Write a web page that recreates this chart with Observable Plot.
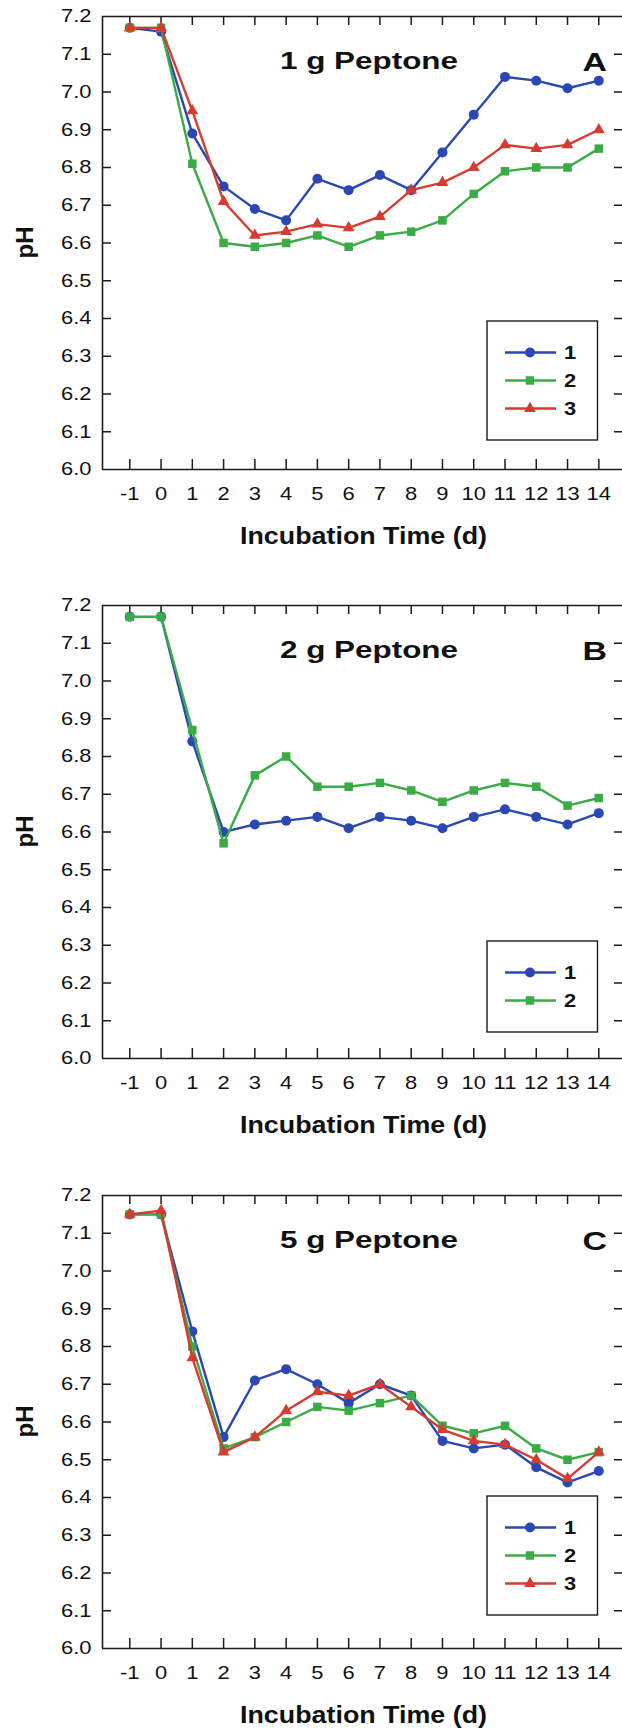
<!DOCTYPE html>
<html>
<head>
<meta charset="utf-8">
<script src="https://cdn.jsdelivr.net/npm/d3@7"></script>
<script src="https://cdn.jsdelivr.net/npm/@observablehq/plot@0.6"></script>
<style>
  body { margin: 0; background: #fff; }
  #charts svg { display: block; }
</style>
</head>
<body>
<div id="charts"></div>
<script>
// Incubation days and pH readings for three peptone loadings
const days = [-1, 0, 1, 2, 3, 4, 5, 6, 7, 8, 9, 10, 11, 12, 13, 14];
const yTicks = [6.0, 6.1, 6.2, 6.3, 6.4, 6.5, 6.6, 6.7, 6.8, 6.9, 7.0, 7.1, 7.2];

// 1 g peptone
const ph1g_s1 = [7.17, 7.16, 6.89, 6.75, 6.69, 6.66, 6.77, 6.74, 6.78, 6.74, 6.84, 6.94, 7.04, 7.03, 7.01, 7.03];
const ph1g_s2 = [7.17, 7.17, 6.81, 6.60, 6.59, 6.60, 6.62, 6.59, 6.62, 6.63, 6.66, 6.73, 6.79, 6.80, 6.80, 6.85];
const ph1g_s3 = [7.17, 7.17, 6.95, 6.71, 6.62, 6.63, 6.65, 6.64, 6.67, 6.74, 6.76, 6.80, 6.86, 6.85, 6.86, 6.90];

// 2 g peptone
const ph2g_s1 = [7.17, 7.17, 6.84, 6.60, 6.62, 6.63, 6.64, 6.61, 6.64, 6.63, 6.61, 6.64, 6.66, 6.64, 6.62, 6.65];
const ph2g_s2 = [7.17, 7.17, 6.87, 6.57, 6.75, 6.80, 6.72, 6.72, 6.73, 6.71, 6.68, 6.71, 6.73, 6.72, 6.67, 6.69];

// 5 g peptone
const ph5g_s1 = [7.15, 7.15, 6.84, 6.56, 6.71, 6.74, 6.70, 6.65, 6.70, 6.67, 6.55, 6.53, 6.54, 6.48, 6.44, 6.47];
const ph5g_s2 = [7.15, 7.15, 6.80, 6.53, 6.56, 6.60, 6.64, 6.63, 6.65, 6.67, 6.59, 6.57, 6.59, 6.53, 6.50, 6.52];
const ph5g_s3 = [7.15, 7.16, 6.77, 6.52, 6.56, 6.63, 6.68, 6.67, 6.70, 6.64, 6.58, 6.55, 6.54, 6.50, 6.45, 6.52];

const seriesLabels = ["1", "2", "3"];
const panelTitles = ["1 g Peptone", "2 g Peptone", "5 g Peptone"];
const panelLetters = ["A", "B", "C"];
const xLabel = "Incubation Time (d)";
const yLabel = "pH";

// styling
const seriesColors = ["#2b47b3", "#3aab45", "#d63b2f"];
const seriesSymbols = ["circle", "square", "triangle"];
const seriesRadius = [5, 4.8, 4.4];
const ink = "#1b1b1b";
const FONT = "'Liberation Sans', Arial, Helvetica, sans-serif";
const WIDE = 1.22;   // the lettering is set a little wide

// layout
const W = 622;
const PLOT_TOP = 16, PLOT_H = 453;
const X_RANGE = [102, 624];           // right spine sits just past the edge
const X_DOMAIN = [-1.873, 14.822];
const pxPerX = (X_RANGE[1] - X_RANGE[0]) / (X_DOMAIN[1] - X_DOMAIN[0]);
const pxPerY = PLOT_H / 1.2;
const xAt = px => X_DOMAIN[0] + (px - X_RANGE[0]) / pxPerX;

const panelHeights = [589, 590, 553];
const legendBottoms = [440, 443, 436];
const panelSeries = [
  [ph1g_s1, ph1g_s2, ph1g_s3],
  [ph2g_s1, ph2g_s2],
  [ph5g_s1, ph5g_s2, ph5g_s3]
];

// widen a text element horizontally about its anchor ("start" | "middle" | "end")
function widen(el, s, anchor) {
  const b = el.getBBox();
  const ax = anchor === "end" ? b.x + b.width : anchor === "middle" ? b.x + b.width / 2 : b.x;
  const t = el.getAttribute("transform") || "";
  el.setAttribute("transform", `${t} translate(${ax},0) scale(${s},1) translate(${-ax},0)`);
}

const host = document.getElementById("charts");

panelSeries.forEach((seriesList, p) => {
  const H = panelHeights[p];
  const rows = seriesList.map((vals, s) => days.map((d, i) => ({day: d, ph: vals[i], s})));

  const marks = [
    // frame: bottom & top lines, left spine
    Plot.ruleY([6.0, 7.2], {stroke: ink, strokeWidth: 1.6}),
    Plot.ruleX([X_DOMAIN[0]], {y1: 6.0, y2: 7.2, stroke: ink, strokeWidth: 1.6}),
    // inward ticks on every side
    Plot.ruleX(days, {x: d => d, y1: 6.0, y2: 6.0 + 10 / pxPerY, stroke: ink, strokeWidth: 1.5}),
    Plot.ruleX(days, {x: d => d, y1: 7.2, y2: 7.2 - 9 / pxPerY, stroke: ink, strokeWidth: 1.5}),
    Plot.ruleY(yTicks.slice(1, -1), {y: d => d, x1: X_DOMAIN[0], x2: X_DOMAIN[0] + 9 / pxPerX, stroke: ink, strokeWidth: 1.5}),
    Plot.ruleY(yTicks.slice(1, -1), {y: d => d, x1: xAt(614), x2: xAt(624), stroke: ink, strokeWidth: 1.5})
  ];

  rows.forEach((r, s) => {
    marks.push(Plot.line(r, {x: "day", y: "ph", stroke: seriesColors[s], strokeWidth: 2.4}));
    marks.push(Plot.dot(r, {x: "day", y: "ph", symbol: seriesSymbols[s], r: seriesRadius[s], fill: seriesColors[s], stroke: "none"}));
  });

  const svg = Plot.plot({
    width: W,
    height: H,
    marginTop: PLOT_TOP,
    marginBottom: H - PLOT_TOP - PLOT_H,
    marginLeft: X_RANGE[0],
    marginRight: 0,
    style: {fontFamily: FONT, fontSize: "18px", color: "#111", background: "#fff"},
    x: {domain: X_DOMAIN, range: X_RANGE, ticks: days, tickSize: 0, tickPadding: 18, tickFormat: d => String(d), label: null},
    y: {domain: [6.0, 7.2], range: [PLOT_TOP + PLOT_H, PLOT_TOP], ticks: yTicks, tickSize: 0, tickPadding: 11, tickFormat: d => d.toFixed(1), label: null},
    marks
  });
  host.appendChild(svg);

  // tick labels drawn by Plot's axes
  svg.querySelectorAll("text").forEach(el => {
    const a = el.closest("[text-anchor]");
    const ta = el.getAttribute("text-anchor") || (a ? a.getAttribute("text-anchor") : null) || "middle";
    widen(el, WIDE, ta);
  });

  const g = d3.select(svg).append("g")
    .attr("font-family", FONT)
    .attr("font-weight", "bold")
    .attr("text-anchor", "start")
    .attr("fill", "#111");

  const stretched = (txt, x, y, size, len) =>
    g.append("text").text(txt)
      .attr("x", x).attr("y", y)
      .attr("font-size", size)
      .attr("text-anchor", "start")
      .attr("textLength", len)
      .attr("lengthAdjust", "spacingAndGlyphs");

  // panel title and letter
  stretched(panelTitles[p], 280, 69, 24, 178);
  stretched(panelLetters[p], 582.5, 70.5, 25, 24.5);
  // axis titles
  stretched(xLabel, 240, PLOT_TOP + PLOT_H + 74.5, 23, 247);
  g.append("text").text(yLabel)
    .attr("transform", `translate(33,${PLOT_TOP + PLOT_H / 2}) rotate(-90)`)
    .attr("font-size", 24)
    .attr("text-anchor", "middle");

  // legend box
  const n = seriesList.length;
  const boxBottom = legendBottoms[p];
  const boxTop = boxBottom - (31.5 * 2 + 28 * (n - 1));
  const lg = d3.select(svg).append("g");
  lg.append("rect")
    .attr("x", 487).attr("y", boxTop)
    .attr("width", 110.5).attr("height", boxBottom - boxTop)
    .attr("fill", "#fff").attr("stroke", ink).attr("stroke-width", 1.4);
  const symMap = {circle: d3.symbolCircle, square: d3.symbolSquare, triangle: d3.symbolTriangle};
  seriesList.forEach((_, s) => {
    const yy = boxTop + 31.5 + 28 * s;
    lg.append("line")
      .attr("x1", 505).attr("x2", 556).attr("y1", yy).attr("y2", yy)
      .attr("stroke", seriesColors[s]).attr("stroke-width", 2.4);
    lg.append("path")
      .attr("d", d3.symbol(symMap[seriesSymbols[s]], Math.PI * seriesRadius[s] ** 2)())
      .attr("transform", `translate(530,${yy})`)
      .attr("fill", seriesColors[s]);
    const t = lg.append("text").text(seriesLabels[s])
      .attr("x", 564).attr("y", yy)
      .attr("dy", "0.36em")
      .attr("text-anchor", "start")
      .attr("font-family", FONT).attr("font-weight", "bold")
      .attr("font-size", 18).attr("fill", "#111");
    widen(t.node(), WIDE, "start");
  });
});
</script>
</body>
</html>
